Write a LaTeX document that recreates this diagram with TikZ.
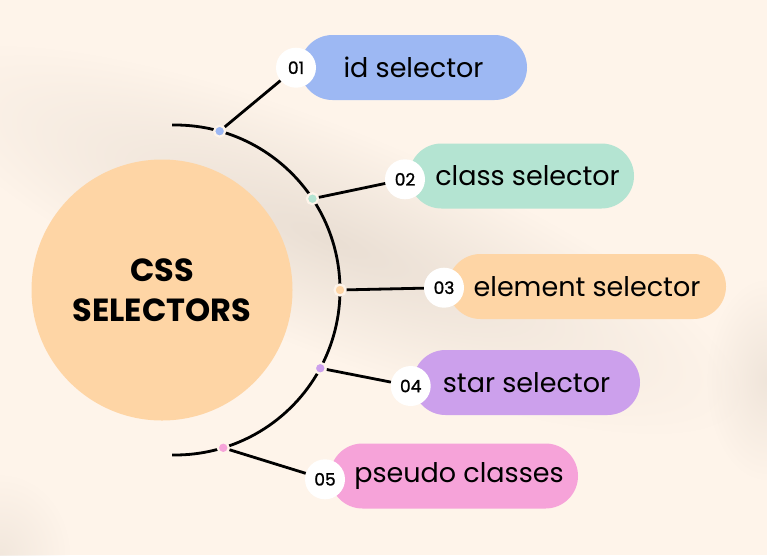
\documentclass[tikz,border=0pt]{standalone}
\usepackage{fontspec}
\setmainfont{Poppins}
\newfontfamily\numfont{Poppins}[FakeBold=1.2]
\usetikzlibrary{fadings,calc}

\definecolor{bgcream}{RGB}{254,244,234}
\definecolor{shadowc}{RGB}{234,223,212}
\definecolor{peach}{RGB}{254,213,165}
\definecolor{idblue}{RGB}{157,184,243}
\definecolor{classgreen}{RGB}{180,228,210}
\definecolor{starpurple}{RGB}{204,160,236}
\definecolor{pseudopink}{RGB}{246,163,217}

\tikzfading[name=softspot, inner color=transparent!0, outer color=transparent!100]

\begin{document}
\begin{tikzpicture}[x=1pt, y=1pt,
    pill/.style={rectangle, rounded corners=32.5pt, minimum height=65pt, inner sep=0pt,
      font=\fontsize{27}{32}\selectfont},
    numdot/.style={circle, fill=white, minimum size=40pt, inner sep=0pt,
      font=\numfont\fontsize{17}{20}\selectfont},
    arcdot/.style={circle, draw=bgcream, line width=2.2pt, minimum size=11pt, inner sep=0pt},
    wire/.style={line width=2.8pt, line cap=round}]

% background
\fill[bgcream] (0,0) rectangle (767,-555);
\useasboundingbox (0,0) rectangle (767,-555);
\fill[shadowc, path fading=softspot, transform canvas={rotate around={-22:(330,-240)}}]
   (330,-240) ellipse (440 and 110);
\fill[shadowc, path fading=softspot, opacity=.7] (767,-380) ellipse (60 and 100);
\fill[shadowc, path fading=softspot, opacity=.6] (0,-555) ellipse (70 and 80);

% big circle
\node[circle, fill=peach, minimum size=261pt, inner sep=0pt, align=center,
      font=\bfseries\fontsize{32}{40}\selectfont] (css) at (162,-290) {CSS\\SELECTORS};

% arc
\coordinate (hub) at (175,-290);
\draw[wire, line cap=butt] (hub) ++(91:165) arc[start angle=91, end angle=-91, radius=165];

% dots on the arc
\node[arcdot, fill=idblue]     (d1) at ($(hub)+(74.3:165)$) {};
\node[arcdot, fill=classgreen] (d2) at ($(hub)+(33.6:165)$) {};
\node[arcdot, fill=peach]      (d3) at ($(hub)+(0:165)$) {};
\node[arcdot, fill=starpurple] (d4) at ($(hub)+(-28.3:165)$) {};
\node[arcdot, fill=pseudopink] (d5) at ($(hub)+(-73:165)$) {};

% pills
\node[pill, fill=idblue,     minimum width=227pt] (p1) at (413.5,-67.5) {id selector};
\node[pill, fill=classgreen, minimum width=225pt] (p2) at (521.5,-176) {\hspace{12pt}class selector};
\node[pill, fill=peach,      minimum width=278pt] (p3) at (587,-286.5) {element selector};
\node[pill, fill=starpurple, minimum width=227pt] (p4) at (526.5,-382.5) {star selector};
\node[pill, fill=pseudopink, minimum width=248pt] (p5) at (454,-476) {\hspace{10pt}pseudo classes};

% numbers
\node[numdot] (n1) at (296,-67.7) {01};
\node[numdot] (n2) at (405,-179.3) {02};
\node[numdot] (n3) at (444,-287.7) {03};
\node[numdot] (n4) at (410.7,-386) {04};
\node[numdot] (n5) at (325,-479.3) {05};

\foreach \i in {1,...,5}
  \draw[wire, line cap=butt] (d\i) -- (n\i);
\end{tikzpicture}
\end{document}
